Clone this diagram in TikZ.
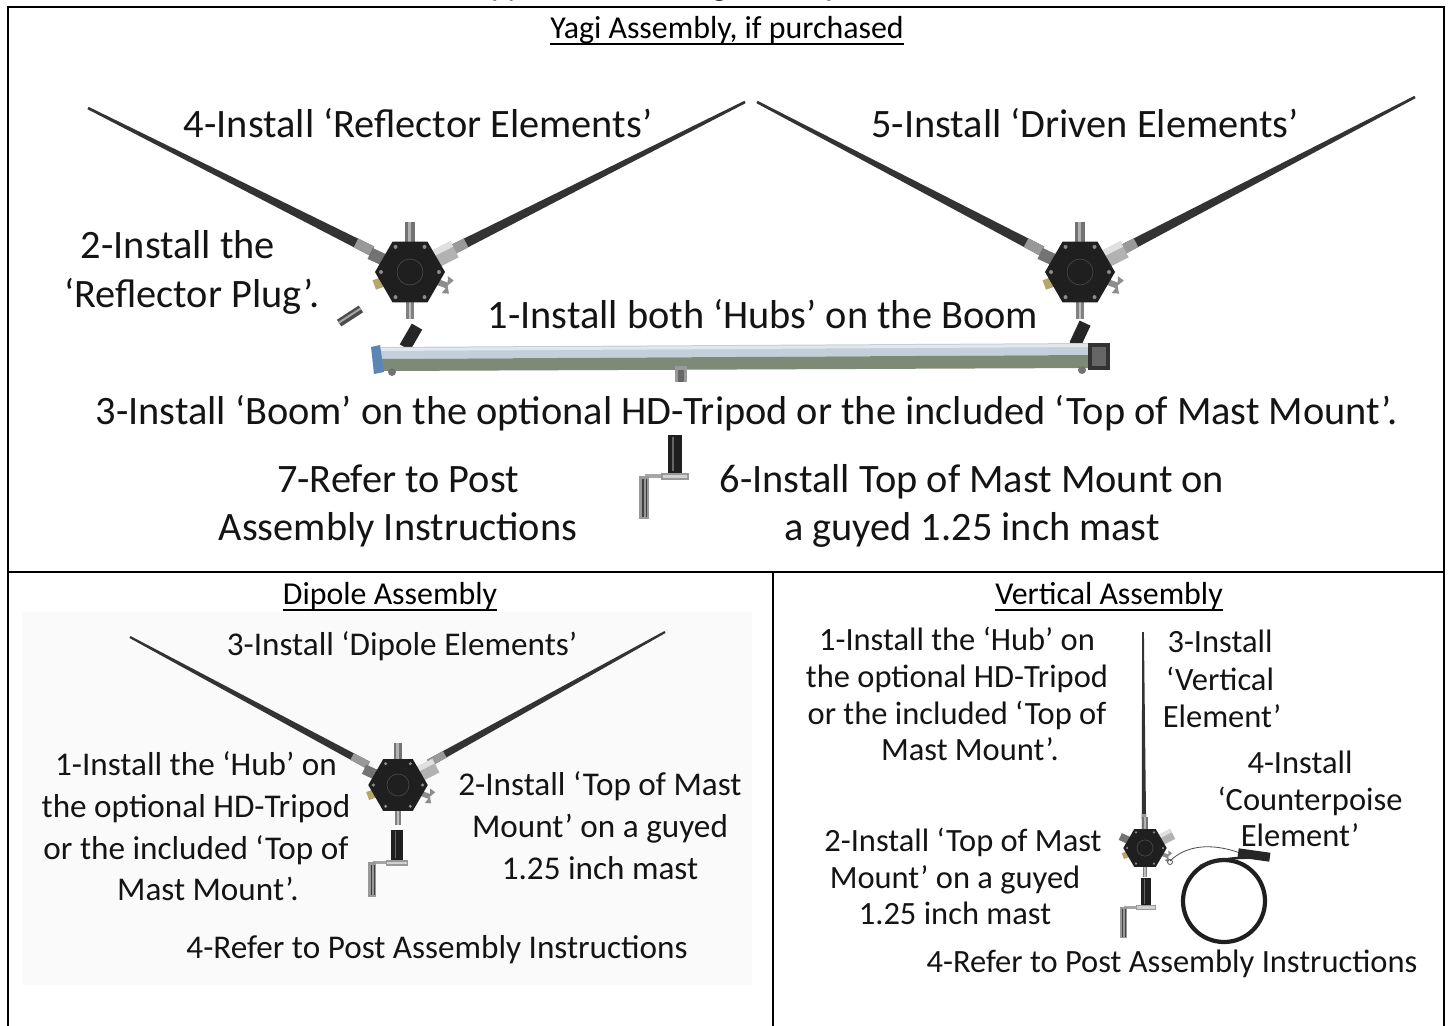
\documentclass[tikz,border=0pt]{standalone}
\usepackage{fontspec}
\setmainfont{Carlito}
\usetikzlibrary{calc}
\definecolor{txt}{HTML}{141414}
\definecolor{boomtop}{HTML}{C3CFDB}
\definecolor{boomside}{HTML}{7E8A78}
\definecolor{boomcap}{HTML}{5B86B4}
\definecolor{brass}{HTML}{B5A66A}
\tikzset{
  yagitext/.style={font=\fontsize{40.5}{48}\selectfont, text=txt, inner sep=0pt, anchor=base},
  dipoletext/.style={font=\fontsize{33.3}{42}\selectfont, text=txt, inner sep=0pt, anchor=base},
  verttext/.style={font=\fontsize{32.6}{37}\selectfont, text=txt, inner sep=0pt, anchor=base},
  headtext/.style={font=\fontsize{32}{38}\selectfont, text=black, inner sep=0pt, anchor=base},
  cuttext/.style={font=\fontsize{34}{40}\selectfont, text=black, inner sep=0pt, anchor=base},
  frameline/.style={line width=2.6bp, black},
  underl/.style={line width=1.8bp, black},
  rodbody/.style={fill=black!80},
  ferrule/.style={fill=black!40},
  hubpic/.pic={
    \begin{scope}[rotate=155]\fill[black!55] (26,-6) rectangle (44,6);\end{scope}
    \begin{scope}[rotate=27]\fill[black!30] (26,-9) rectangle (50,9);\fill[black!12] (26,-9) rectangle (50,-3);\end{scope}
    \fill[black!55] (-5,-28) rectangle (5,-50);
    \fill[black!30] (-2,-28) rectangle (1,-50);
    \fill[black!50] (-4,28) rectangle (4,47);
    \fill[black!25] (-1.5,28) rectangle (1,47);
    \begin{scope}[rotate=200]\fill[brass] (28,-5) rectangle (38,5);\end{scope}
    \begin{scope}[rotate=-20]
      \fill[black!45] (28,-3) rectangle (40,3);
      \fill[black!45] (37,-9) -- (44,-7) -- (40,0) -- cycle;
      \fill[black!45] (37,9) -- (44,7) -- (40,0) -- cycle;
    \end{scope}
    \fill[black!88] (0:35) -- (60:35) -- (120:35) -- (180:35) -- (240:35) -- (300:35) -- cycle;
    \foreach \a in {0,60,...,300} \fill[black!45] (\a:29) circle (2);
    \draw[black!70, line width=0.6bp] (0,0) circle (13);
  },
  mountpic/.pic={
    \fill[black!88] (-7,-38) rectangle (7,0);
    \fill[black!60] (-3,-36) rectangle (-1.5,-2);
    \fill[black!40] (-14,0) rectangle (14,7);
    \fill[black!18] (-12,2) rectangle (12,5);
    \fill[black!35] (-30,1) rectangle (-14,5);
    \fill[black!40] (-36,3) rectangle (-26,46);
    \fill[black!75] (-33,6) rectangle (-31.5,44);
    \fill[black!75] (-29,6) rectangle (-28,44);
  }
}
\newcommand\rodshape[4]{%
  \coordinate (ftmp) at ($(#1)!18bp!(#2)$);
  \fill[rodbody] ($(#1)!#3!90:(#2)$) -- ($(#2)!#4!-90:(#1)$) -- ($(#2)!#4!90:(#1)$) -- ($(#1)!#3!-90:(#2)$) -- cycle;
  \fill[ferrule] ($(#1)!#3!90:(#2)$) -- ($(ftmp)!#3!-90:(#1)$) -- ($(ftmp)!#3!90:(#1)$) -- ($(#1)!#3!-90:(#2)$) -- cycle;
}
\begin{document}
\begin{tikzpicture}[x=1bp,y=-1bp]
\useasboundingbox (0,0) rectangle (1448,1025);
\fill[white] (0,0) rectangle (1448,1025);

% cut-off text above the page
\node[cuttext] (cut1) at (500,-5) {p};
\node[cuttext] (cut2) at (517,-5) {y,};
\node[cuttext] (cut3) at (724,-5) {g,};
\node[cuttext] (cut4) at (834,-5) {p};

% dipole photo background
\fill[black!2] (22,612) rectangle (752,985);

% table frame
\draw[frameline] (8,1030) -- (8,7) -- (1444,7) -- (1444,1030);
\draw[frameline] (8,572) -- (1444,572);
\draw[frameline] (773,572) -- (773,1030);

% ---------------- Yagi ----------------
\coordinate (h1) at (410,272);
\coordinate (h2) at (1080,272);
\coordinate (r1a) at (372,251); \coordinate (r1b) at (88,108);
\coordinate (r2a) at (450,251); \coordinate (r2b) at (745,102);
\coordinate (r3a) at (1042,251); \coordinate (r3b) at (757,102);
\coordinate (r4a) at (1120,251); \coordinate (r4b) at (1415,97);
\rodshape{r1a}{r1b}{5bp}{1.3bp}
\rodshape{r2a}{r2b}{5bp}{1.3bp}
\rodshape{r3a}{r3b}{5bp}{1.3bp}
\rodshape{r4a}{r4b}{5bp}{1.3bp}
\pic at (h1) {hubpic};
\pic at (h2) {hubpic};

% reflector plug
\begin{scope}[shift={(350,316)},rotate=33]
  \fill[black!70] (-13,-4) rectangle (13,4);
  \fill[black!35] (-13,-1.5) rectangle (13,0.5);
\end{scope}

% boom posts
\begin{scope}[shift={(411,337)},rotate=60]
  \fill[black!85] (-12,-6) rectangle (12,6);
\end{scope}
\begin{scope}[shift={(1080,334)},rotate=65]
  \fill[black!85] (-12,-6) rectangle (12,6);
\end{scope}

% boom
\fill[boomtop] (378,347) -- (1092,343) -- (1092,355) -- (378,359) -- cycle;
\fill[white, opacity=0.5] (378,348) -- (1092,344) -- (1092,347) -- (378,351) -- cycle;
\fill[boomside] (378,359) -- (1092,355) -- (1092,368) -- (378,371) -- cycle;
\fill[boomcap] (371,347) -- (380,345) -- (384,372) -- (374,374) -- cycle;
\fill[black!80] (1088,343) rectangle (1110,370);
\fill[black!60] (1092,347) rectangle (1106,366);
\fill[black!55] (392,372) circle (4);
\fill[black!55] (1082,370) circle (4);
\fill[black!40] (675,366) rectangle (687,382);
\fill[black!60] (678,370) rectangle (684,382);

% top of mast mount (yagi)
\pic at (675,473) {mountpic};

% yagi texts
\node[headtext] (hy) at (727,38) {Yagi Assembly, if purchased};
\draw[underl] ($(hy.base west)+(0,6)$) -- ($(hy.base east)+(0,6)$);
\node[yagitext] (y4) at (418,137) {4-Install ‘Reflector Elements’};
\node[yagitext] (y5) at (1085,137) {5-Install ‘Driven Elements’};
\node[yagitext] (y2a) at (178,258) {2-Install the};
\node[yagitext] (y2b) at (192,307) {‘Reflector Plug’.};
\node[yagitext] (y1) at (763,328) {1-Install both ‘Hubs’ on the Boom};
\node[yagitext] (y3) at (747,424) {3-Install ‘Boom’ on the optional HD-Tripod or the included ‘Top of Mast Mount’.};
\node[yagitext] (y7a) at (398,492) {7-Refer to Post};
\node[yagitext] (y7b) at (398,540) {Assembly Instructions};
\node[yagitext] (y6a) at (972,492) {6-Install Top of Mast Mount on};
\node[yagitext] (y6b) at (972,540) {a guyed 1.25 inch mast};

% ---------------- Dipole ----------------
\coordinate (hd1) at (398,785);
\coordinate (d1a) at (368,765); \coordinate (d1b) at (130,637);
\coordinate (d2a) at (429,763); \coordinate (d2b) at (665,632);
\rodshape{d1a}{d1b}{3.8bp}{1.1bp}
\rodshape{d2a}{d2b}{3.8bp}{1.1bp}
\pic[scale=0.85] at (hd1) {hubpic};
\pic[scale=0.8] at (397,860) {mountpic};

\node[headtext] (hd) at (390,604) {Dipole Assembly};
\draw[underl] ($(hd.base west)+(0,6)$) -- ($(hd.base east)+(0,6)$);
\node[dipoletext] (d3) at (402,655) {3-Install ‘Dipole Elements’};
\node[dipoletext] (d1l1) at (196,775) {1-Install the ‘Hub’ on};
\node[dipoletext] (d1l2) at (196,817) {the optional HD-Tripod};
\node[dipoletext] (d1l3) at (196,859) {or the included ‘Top of};
\node[dipoletext] (d1l4) at (208,900) {Mast Mount’.};
\node[dipoletext] (d2l1) at (600,795) {2-Install ‘Top of Mast};
\node[dipoletext] (d2l2) at (600,837) {Mount’ on a guyed};
\node[dipoletext] (d2l3) at (600,879) {1.25 inch mast};
\node[dipoletext] (d4) at (437,958) {4-Refer to Post Assembly Instructions};

% ---------------- Vertical ----------------
\coordinate (hv1) at (1145,848);
\coordinate (v1a) at (1144,832); \coordinate (v1b) at (1143,632);
\rodshape{v1a}{v1b}{2.2bp}{0.9bp}
\pic[scale=0.62] at (hv1) {hubpic};
\pic[scale=0.72] at (1146,905) {mountpic};
% counterpoise coil
\draw[black!88, line width=4.2bp] (1224,901) ellipse (41 and 41);
\draw[black!70, line width=0.8bp] (1170,861) .. controls (1185,846) and (1210,842) .. (1240,853);
\draw[black!70, line width=0.8bp] (1170,862) circle (2.5);
\draw[black!85, line width=2.5bp] (1262,858) .. controls (1240,857) and (1222,858) .. (1200,866);
\begin{scope}[shift={(1254,855)},rotate=-8]
  \fill[black!85] (-16,-4.5) rectangle (16,4.5);
\end{scope}

\node[headtext] (hv) at (1109,604) {Vertical Assembly};
\draw[underl] ($(hv.base west)+(0,6)$) -- ($(hv.base east)+(0,6)$);
\node[verttext] (v1l1) at (957,650) {1-Install the ‘Hub’ on};
\node[verttext] (v1l2) at (957,687) {the optional HD-Tripod};
\node[verttext] (v1l3) at (957,724) {or the included ‘Top of};
\node[verttext] (v1l4) at (970,760) {Mast Mount’.};
\node[verttext] (v3l1) at (1220,652) {3-Install};
\node[verttext] (v3l2) at (1220,690) {‘Vertical};
\node[verttext] (v3l3) at (1222,727) {Element’};
\node[verttext] (v4l1) at (1300,773) {4-Install};
\node[verttext] (v4l2) at (1310,810) {‘Counterpoise};
\node[verttext] (v4l3) at (1300,846) {Element’};
\node[verttext] (v2l1) at (963,851) {2-Install ‘Top of Mast};
\node[verttext] (v2l2) at (955,888) {Mount’ on a guyed};
\node[verttext] (v2l3) at (955,924) {1.25 inch mast};
\node[verttext] (v5) at (1172,972) {4-Refer to Post Assembly Instructions};
\end{tikzpicture}
\end{document}
